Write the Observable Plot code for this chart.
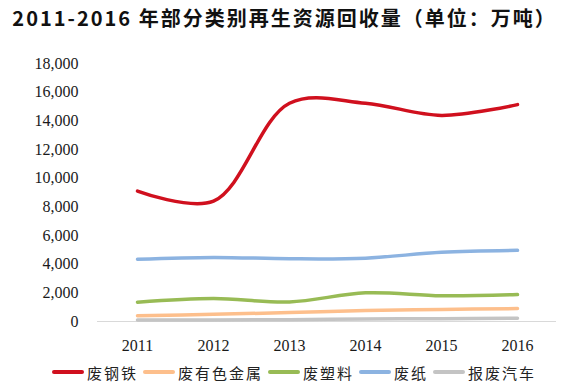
<!DOCTYPE html>
<html>
<head>
<meta charset="utf-8">
<script src="https://cdn.jsdelivr.net/npm/d3@7"></script>
<script src="https://cdn.jsdelivr.net/npm/@observablehq/plot@0.6"></script>
<style>
  html, body { margin: 0; padding: 0; background: #fff; }
  #wrap { position: relative; width: 569px; height: 386px; overflow: hidden; }
  #title { position: absolute; left: 0; top: 0; width: 569px; height: 40px; line-height: 36px;
    text-align: center; font-family: "Noto Sans CJK SC", sans-serif; font-weight: bold; font-size: 20px;
    letter-spacing: 2px; color: #111; }
  #chart { position: absolute; left: 0; top: 40px; }
  #legend { position: absolute; left: 52px; top: 362px; height: 20px; display: flex; align-items: center;
    font-family: "Noto Sans CJK SC", serif; font-size: 15px; color: #222; }
  .item { display: flex; align-items: center; margin-right: 5px; }
  .sw { width: 32px; height: 4px; border-radius: 2px; margin-right: 3px; }
  .lab { letter-spacing: 2px; white-space: nowrap; }
</style>
</head>
<body>
<div id="wrap">
  <div id="title">2011-2016 年部分类别再生资源回收量（单位：万吨）</div>
  <div id="chart"></div>
  <div id="legend"></div>
</div>
<script>
const years = [2011, 2012, 2013, 2014, 2015, 2016];
const seriesNames = ["废钢铁", "废有色金属", "废塑料", "废纸", "报废汽车"];
const steel = [9100, 8400, 15230, 15230, 14380, 15130];
const nonferrous = [400, 500, 620, 760, 840, 900];
const plastic = [1350, 1600, 1366, 2000, 1800, 1878];
const paper = [4347, 4472, 4377, 4419, 4832, 4963];
const vehicles = [100, 110, 130, 170, 200, 230];
const yTicks = [0, 2000, 4000, 6000, 8000, 10000, 12000, 14000, 16000, 18000];
const colors = ["#d0101e", "#fdbf8c", "#98bb55", "#8cb3e1", "#c4c4c4"];

const seriesValues = [steel, nonferrous, plastic, paper, vehicles];
const rows = [];
seriesNames.forEach((name, i) => {
  years.forEach((yr, j) => rows.push({series: name, year: yr, value: seriesValues[i][j]}));
});

const drawOrder = ["报废汽车", "废有色金属", "废塑料", "废纸", "废钢铁"];

const plot = Plot.plot({
  width: 569,
  height: 320,
  marginTop: 23,
  marginBottom: 39,
  marginLeft: 97,
  marginRight: 13,
  style: {fontFamily: "'Liberation Serif', 'Times New Roman', serif", fontSize: "16px", color: "#1a1a1a", background: "transparent"},
  x: {type: "point", domain: years, padding: 0.5},
  y: {domain: [0, 18000]},
  color: {domain: seriesNames, range: colors},
  marks: [
    Plot.ruleY([0], {stroke: "#d9d9d9", strokeWidth: 1}),
    Plot.axisY({ticks: yTicks, tickSize: 0, tickPadding: 19, tickFormat: d3.format(","), label: null, fontSize: 16}),
    Plot.axisX({tickSize: 0, tickPadding: 18, tickFormat: d => String(d), label: null, fontSize: 16}),
    ...drawOrder.map(name => Plot.lineY(rows.filter(r => r.series === name), {
      x: "year", y: "value", stroke: "series", strokeWidth: 3.5, curve: "catmull-rom", strokeLinecap: "round"
    }))
  ]
});
document.getElementById("chart").appendChild(plot);

const legend = document.getElementById("legend");
seriesNames.forEach((name, i) => {
  const it = document.createElement("div");
  it.className = "item";
  const sw = document.createElement("div");
  sw.className = "sw";
  sw.style.background = colors[i];
  const lab = document.createElement("span");
  lab.className = "lab";
  lab.textContent = name;
  it.appendChild(sw);
  it.appendChild(lab);
  legend.appendChild(it);
});
</script>
</body>
</html>
